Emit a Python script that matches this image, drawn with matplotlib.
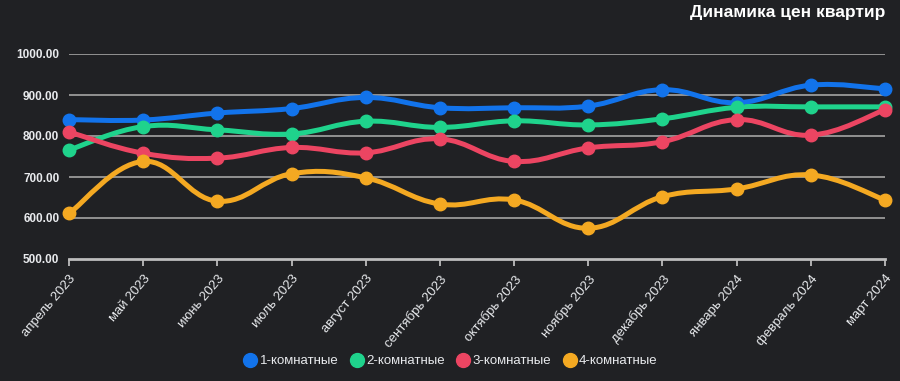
import numpy as np
import matplotlib
matplotlib.use("Agg")
import matplotlib.pyplot as plt
from matplotlib.path import Path
from matplotlib.patches import PathPatch
from matplotlib.lines import Line2D

months = ["апрель 2023", "май 2023", "июнь 2023", "июль 2023", "август 2023",
          "сентябрь 2023", "октябрь 2023", "ноябрь 2023", "декабрь 2023",
          "январь 2024", "февраль 2024", "март 2024"]
one_room = [840, 839, 856, 867, 894, 869, 869, 873, 913, 881, 924, 915]
two_room = [766, 823, 815, 805, 836, 821, 837, 827, 842, 870, 871, 871]
three_room = [810, 758, 746, 772, 759, 793, 738, 771, 786, 840, 802, 864]
four_room = [611, 738, 641, 708, 698, 634, 644, 575, 652, 671, 705, 644]
series_names = ["1-комнатные", "2-комнатные", "3-комнатные", "4-комнатные"]
yticks = [500, 600, 700, 800, 900, 1000]

colors = ["#1273eb", "#1fd38c", "#ec4562", "#f4a922"]
bg = "#202124"
fg = "#e8eaed"

plt.rcParams['font.family'] = ['Liberation Sans', 'DejaVu Sans']

fig = plt.figure(figsize=(9, 3.81), dpi=100, facecolor=bg)
ax = fig.add_axes([69/900, 1-259/381, (885-69)/900, (259-54)/381])
ax.set_facecolor(bg)


def smooth_path(xs, ys, t=0.4):
    # bezier control points like chart.js tension
    verts = [(xs[0], ys[0])]
    codes = [Path.MOVETO]
    n = len(xs)
    for i in range(n - 1):
        x0, y0 = xs[max(i-1, 0)], ys[max(i-1, 0)]
        x1, y1 = xs[i], ys[i]
        x2, y2 = xs[i+1], ys[i+1]
        x3, y3 = xs[min(i+2, n-1)], ys[min(i+2, n-1)]
        c1 = (x1 + (x2 - x0) * t / 2, y1 + (y2 - y0) * t / 2)
        c2 = (x2 - (x3 - x1) * t / 2, y2 - (y3 - y1) * t / 2)
        verts += [c1, c2, (x2, y2)]
        codes += [Path.CURVE4] * 3
    return Path(verts, codes)


x = np.arange(len(months))
for vals, c in zip([one_room, two_room, three_room, four_room], colors):
    p = PathPatch(smooth_path(x, vals), fill=False, edgecolor=c, lw=3.6,
                  capstyle='round', joinstyle='round', clip_on=False, zorder=3)
    ax.add_patch(p)
    ax.plot(x, vals, 'o', color=c, ms=9, clip_on=False, zorder=4)

ax.set_xlim(0, len(months) - 1)
ax.set_ylim(500, 1000)
ax.set_yticks(yticks)
ax.set_yticklabels([f"{v:.2f}" for v in yticks], color=fg, fontsize=8.5,
                   fontweight='bold')
for v in yticks[1:]:
    ax.axhline(v, color="#9a9a9a", lw=1.3, zorder=1)
ax.tick_params(axis='y', length=0, pad=7)

ax.set_xticks(x)
ax.set_xticklabels(months, rotation=50, ha='right', va='top',
                   rotation_mode='anchor', color=fg, fontsize=9.5)
ax.tick_params(axis='x', length=5, width=1.3, color="#bdbdbd", pad=5)

for s in ['top', 'right', 'left']:
    ax.spines[s].set_visible(False)
ax.spines['bottom'].set_color("#bdbdbd")
ax.spines['bottom'].set_linewidth(2)

fig.text(885/900, 1-12/381, "Динамика цен квартир", ha='right', va='center',
         color="white", fontsize=12.5, fontweight='bold')

handles = [Line2D([], [], marker='o', ls='none', color=c, ms=10) for c in colors]
fig.legend(handles, series_names, loc='center', bbox_to_anchor=(450/900, 1-361/381),
           ncol=4, frameon=False, labelcolor=fg, fontsize=9.5,
           handletextpad=0.1, columnspacing=0.8, handlelength=1.2)

fig.savefig("out.png", dpi=100, facecolor=bg)
